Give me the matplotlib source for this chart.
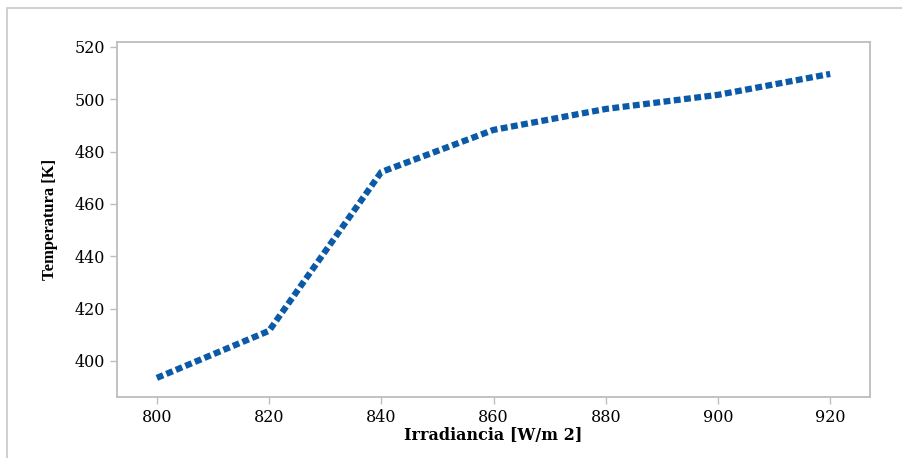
import matplotlib.pyplot as plt
from matplotlib.patches import Rectangle

irradiance = [800, 820, 840, 860, 880, 900, 920]
temperature = [393.5, 411.5, 472.2, 488.3, 496.3, 501.7, 509.7]
x_ticks = [800, 820, 840, 860, 880, 900, 920]
y_ticks = [400, 420, 440, 460, 480, 500, 520]

plt.rcParams['font.family'] = ['Liberation Serif', 'DejaVu Serif']

fig = plt.figure(figsize=(9.02, 4.58), dpi=100)
W, H = 902, 458
ax = fig.add_axes([117 / W, 1 - 397 / H, (870 - 117) / W, (397 - 42) / H])

# outer frame of the picture
fig.patches.append(Rectangle((7 / W, -0.1), 1.2, 1 - 8 / H + 0.1,
                             transform=fig.transFigure, fill=False,
                             edgecolor='#c8c8c8', linewidth=1.2))

ax.plot(irradiance, temperature, color='#0b5aa8', linewidth=4.5,
        linestyle=(0, (1.1, 0.55)), solid_capstyle='butt', dash_capstyle='butt')

ax.set_xlim(792.9, 927.1)
ax.set_ylim(386.2, 521.9)
ax.set_xticks(x_ticks)
ax.set_yticks(y_ticks)

for s in ax.spines.values():
    s.set_color('#bdbdbd')
    s.set_linewidth(1.3)
ax.tick_params(colors='#bdbdbd', labelcolor='black', length=5, width=1)
for lbl in ax.get_xticklabels() + ax.get_yticklabels():
    lbl.set_fontfamily('DejaVu Serif')
    lbl.set_fontsize(11.5)

ax.set_xlabel('Irradiancia [W/m 2]', fontsize=11.5, fontweight='bold',
              family='DejaVu Serif', labelpad=1)
ax.set_ylabel('Temperatura [K]', fontsize=12, fontweight='bold', labelpad=12)

fig.savefig('out.png', dpi=100)
